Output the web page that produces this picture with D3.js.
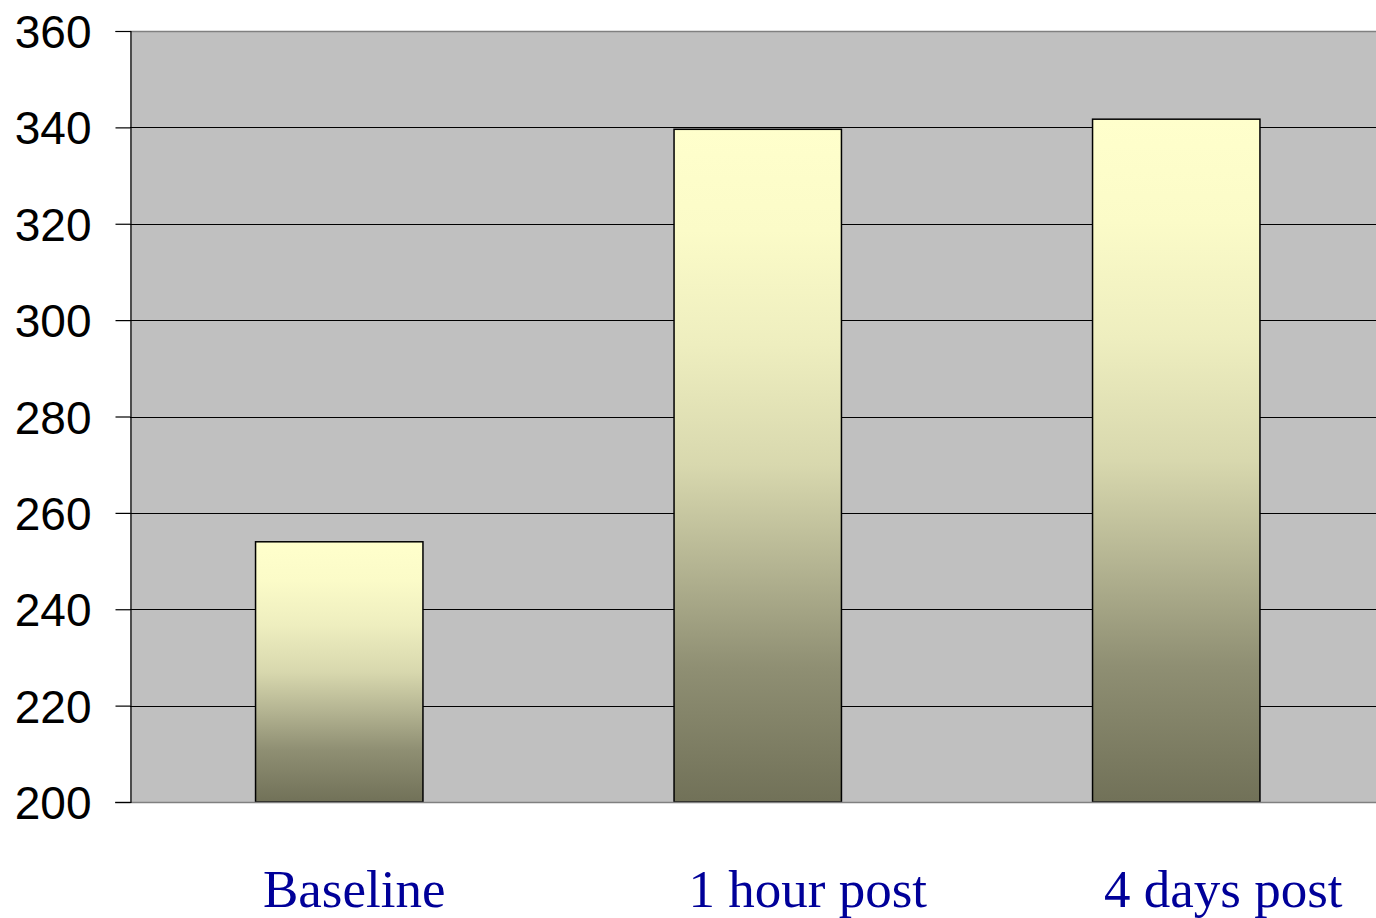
<!DOCTYPE html>
<html>
<head>
<meta charset="utf-8">
<script src="https://cdn.jsdelivr.net/npm/d3@7"></script>
<style>
  html, body { margin: 0; padding: 0; background: #ffffff; }
  svg { display: block; }
</style>
</head>
<body>
<svg id="chart" width="1376" height="918"></svg>
<script>
// Chart data
const categories = ["Baseline", "1 hour post", "4 days post"];
const values = [254, 339.6, 341.7];
const yTicks = [200, 220, 240, 260, 280, 300, 320, 340, 360];

// Layout
const W = 1376, H = 918;
const plotLeft = 130, plotTop = 31, plotBottom = 802;
const plotRight = plotLeft + 1255.5;           // plot area runs past the right edge
const labelNudge = [15, 50, 47];               // horizontal shift of category labels

const svg = d3.select("#chart");

const x = d3.scaleBand()
  .domain(categories)
  .range([plotLeft, plotRight])
  .paddingInner(0.6)
  .paddingOuter(0.3);

const y = d3.scaleLinear()
  .domain([200, 360])
  .range([plotBottom, plotTop]);

// Bar gradient: pale yellow on top to dark olive at the bottom
const defs = svg.append("defs");
const grad = defs.append("linearGradient")
  .attr("id", "barFill")
  .attr("x1", 0).attr("y1", 0).attr("x2", 0).attr("y2", 1);
[
  [0, "#ffffcc"],
  [0.15, "#fbfbc8"],
  [0.32, "#eeeebf"],
  [0.5, "#d8d8ae"],
  [0.65, "#b4b492"],
  [0.8, "#8f8f73"],
  [1, "#717158"]
].forEach(([o, c]) => grad.append("stop").attr("offset", o).attr("stop-color", c));

// Plot background
svg.append("rect")
  .attr("x", plotLeft).attr("y", plotTop)
  .attr("width", plotRight - plotLeft).attr("height", plotBottom - plotTop)
  .attr("fill", "#c0c0c0");

// Top border of the plot area
svg.append("line")
  .attr("x1", plotLeft).attr("x2", W)
  .attr("y1", plotTop + 0.5).attr("y2", plotTop + 0.5)
  .attr("stroke", "#808080").attr("stroke-width", 1.5);

// Horizontal gridlines
svg.append("g")
  .selectAll("line")
  .data(yTicks.filter(t => t > 200 && t < 360))
  .join("line")
  .attr("x1", plotLeft).attr("x2", W)
  .attr("y1", d => Math.round(y(d)) + 0.5).attr("y2", d => Math.round(y(d)) + 0.5)
  .attr("stroke", "#000000").attr("stroke-width", 1);

// Bars
svg.append("g")
  .selectAll("rect")
  .data(values)
  .join("rect")
  .attr("x", (d, i) => x(categories[i]))
  .attr("y", d => y(d))
  .attr("width", x.bandwidth())
  .attr("height", d => y(200) - y(d))
  .attr("fill", "url(#barFill)")
  .attr("stroke", "#000000")
  .attr("stroke-width", 1.5);

// Bottom axis line
svg.append("line")
  .attr("x1", plotLeft - 15).attr("x2", W)
  .attr("y1", plotBottom + 0.5).attr("y2", plotBottom + 0.5)
  .attr("stroke", "#808080").attr("stroke-width", 1.5);

// Y axis
const yAxis = d3.axisLeft(y)
  .tickValues(yTicks)
  .tickSize(15)
  .tickPadding(24)
  .tickFormat(d3.format("d"));

const gy = svg.append("g")
  .attr("transform", `translate(${plotLeft + 0.5},0)`)
  .call(yAxis);
gy.select(".domain").attr("stroke", "#000000").attr("stroke-width", 1.2);
gy.selectAll(".tick line").attr("stroke", "#000000").attr("stroke-width", 1.2);
gy.selectAll(".tick text")
  .attr("font-family", "Liberation Sans, Arial, sans-serif")
  .attr("font-size", 46)
  .attr("fill", "#000000")
  .attr("dy", "0.36em");

// Category labels
svg.append("g")
  .selectAll("text")
  .data(categories)
  .join("text")
  .attr("x", (d, i) => x(d) + x.bandwidth() / 2 + labelNudge[i])
  .attr("y", 907)
  .attr("text-anchor", "middle")
  .attr("font-family", "Liberation Serif, Times New Roman, serif")
  .attr("font-size", 53)
  .attr("fill", "#000099")
  .text(d => d);
</script>
</body>
</html>
